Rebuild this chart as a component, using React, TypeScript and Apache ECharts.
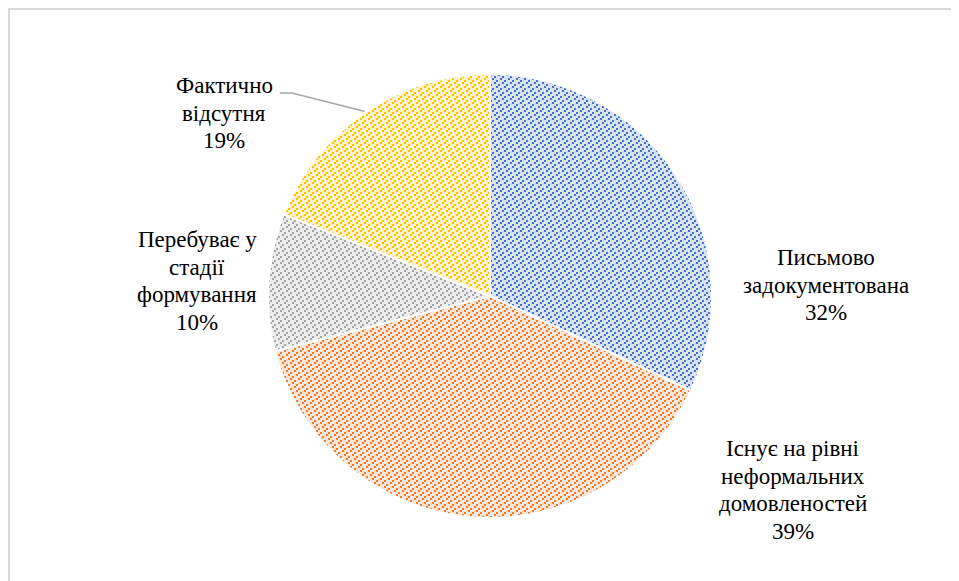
import React, { useEffect, useRef } from "react";
import * as echarts from "echarts";

const categories = [
  "Письмово\nзадокументована",
  "Існує на рівні\nнеформальних\nдомовленостей",
  "Перебуває у\nстадії\nформування",
  "Фактично\nвідсутня",
];
const values = [32, 39, 10, 19];
const fgColors = ["#4472c4", "#ed7d31", "#a5a5a5", "#ffc000"];
const bgColors = ["#dae3f3", "#fbe5d6", "#ededed", "#fff2cc"];
const FONT = "Liberation Serif";
const FONT_SIZE = 23;

function makePattern(bg: string, fg: string) {
  const c = document.createElement("canvas");
  c.width = 8;
  c.height = 16;
  const ctx = c.getContext("2d")!;
  ctx.fillStyle = bg;
  ctx.fillRect(0, 0, 8, 16);
  ctx.fillStyle = fg;
  const sq: [number, number][] = [
    [0, 0], [2, 14],
    [2, 4], [4, 2],
    [4, 8], [6, 6],
    [6, 12], [0, 10],
  ];
  sq.forEach(([x, y]) => ctx.fillRect(x, y, 2, 2));
  return c;
}

// label anchor positions (chart pixel coordinates), one per category
const labelPos: [number, number][] = [
  [816, 275],
  [783, 480],
  [187, 271],
  [214, 103],
];
const LINE_PITCH = 27.5;

export default function App() {
  const ref = useRef<HTMLDivElement>(null);
  useEffect(() => {
    if (!ref.current) return;
    const chart = echarts.init(ref.current, undefined, { renderer: "svg" });
    const total = values.reduce((a, b) => a + b, 0);
    const data = categories.map((name, i) => ({
      name,
      value: values[i],
      itemStyle: {
        color: { image: makePattern(bgColors[i], fgColors[i]), repeat: "repeat" } as any,
      },
    }));
    const mc = document.createElement("canvas").getContext("2d")!;
    mc.font = `${FONT_SIZE}px "${FONT}"`;
    const labelTexts: any[] = [];
    categories.forEach((name, i) => {
      const lines = `${name}\n${Math.round((values[i] / total) * 100)}%`.split("\n");
      lines.forEach((line, k) => {
        const w = mc.measureText(line).width;
        const cy = labelPos[i][1] + (k - (lines.length - 1) / 2) * LINE_PITCH;
        labelTexts.push({
          type: "text",
          left: Math.round(labelPos[i][0] - w / 2),
          top: Math.round(cy - FONT_SIZE / 2),
          style: {
            text: line,
            fontFamily: FONT,
            fontSize: FONT_SIZE,
          },
        });
      });
    });
    chart.setOption({
      animation: false,
      graphic: [
        ...labelTexts,
        {
          type: "polyline",
          shape: {
            points: [
              [355, 101.5],
              [282, 83],
              [270, 83],
            ],
          },
          style: { stroke: "#a6a6a6", lineWidth: 1.5, fill: "none" },
        },
      ],
      series: [
        {
          type: "pie",
          center: [480, 286],
          radius: 222,
          startAngle: 90,
          clockwise: true,
          avoidLabelOverlap: false,
          itemStyle: { borderColor: "#ffffff", borderWidth: 2 },
          label: { show: false },
          labelLine: { show: false },
          data,
        },
      ],
    });
    return () => chart.dispose();
  }, []);
  return (
    <div
      style={{
        width: 951,
        height: 573,
        boxSizing: "border-box",
        borderTop: "2px solid #d9d9d9",
        borderLeft: "2px solid #d9d9d9",
        overflow: "hidden",
      }}
    >
      <div ref={ref} style={{ width: 949, height: 571 }} />
    </div>
  );
}
